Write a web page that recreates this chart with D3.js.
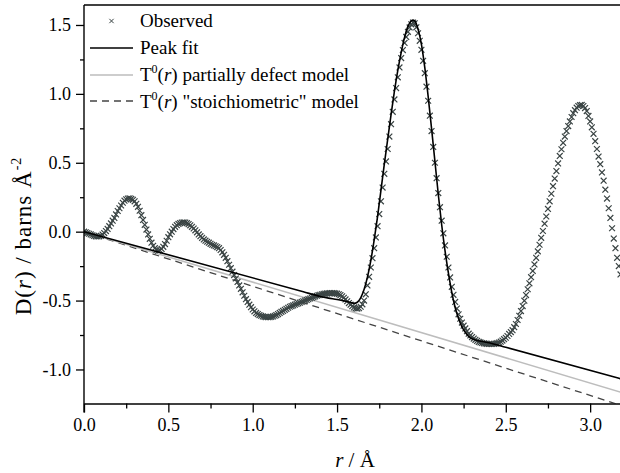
<!DOCTYPE html>
<html>
<head>
  <meta charset="UTF-8">
  <title>D(r)</title>
  <script src="https://d3js.org/d3.v7.min.js"></script>
  <style>
    * { margin: 0; padding: 0; box-sizing: border-box; }
    body { background: #fff; }
    text { font-family: "Liberation Serif", "Times New Roman", serif; fill: #000; }
  </style>
</head>
<body>
  <div id="chart"></div>
  <script>
    // observed D(r), sampled every 0.01 Å starting at r = 0
    const obsStart = 0, obsStep = 0.01;
    const observed = [
      0.000,-0.005,-0.010,-0.015,-0.020,-0.026,-0.030,-0.034,-0.035,-0.034,
      -0.030,-0.021,-0.010,0.004,0.020,0.040,0.060,0.080,0.100,0.125,
      0.150,0.170,0.190,0.210,0.225,0.235,0.240,0.242,0.238,0.231,
      0.220,0.202,0.180,0.152,0.120,0.085,0.050,0.015,-0.020,-0.052,
      -0.080,-0.102,-0.120,-0.133,-0.138,-0.135,-0.125,-0.110,-0.090,-0.066,
      -0.040,-0.019,0.000,0.019,0.035,0.047,0.056,0.062,0.066,0.067,
      0.066,0.062,0.055,0.046,0.035,0.023,0.010,-0.005,-0.020,-0.033,
      -0.045,-0.056,-0.065,-0.073,-0.080,-0.088,-0.095,-0.100,-0.106,-0.112,
      -0.120,-0.133,-0.150,-0.168,-0.190,-0.214,-0.240,-0.265,-0.290,-0.315,
      -0.340,-0.365,-0.390,-0.415,-0.440,-0.465,-0.490,-0.510,-0.530,-0.548,
      -0.565,-0.578,-0.590,-0.598,-0.605,-0.610,-0.615,-0.618,-0.620,-0.621,
      -0.620,-0.618,-0.615,-0.610,-0.605,-0.598,-0.590,-0.582,-0.575,-0.567,
      -0.560,-0.552,-0.545,-0.540,-0.535,-0.530,-0.525,-0.520,-0.515,-0.510,
      -0.505,-0.500,-0.495,-0.490,-0.485,-0.480,-0.475,-0.470,-0.465,-0.461,
      -0.458,-0.455,-0.452,-0.450,-0.448,-0.447,-0.446,-0.446,-0.446,-0.448,
      -0.450,-0.454,-0.460,-0.469,-0.480,-0.492,-0.505,-0.518,-0.530,-0.541,
      -0.550,-0.556,-0.558,-0.555,-0.545,-0.527,-0.500,-0.455,-0.390,-0.328,
      -0.260,-0.192,-0.120,-0.042,0.040,0.128,0.220,0.320,0.420,0.510,
      0.600,0.690,0.780,0.870,0.960,1.042,1.120,1.192,1.260,1.318,
      1.370,1.413,1.450,1.482,1.505,1.518,1.512,1.483,1.440,1.385,
      1.320,1.240,1.150,1.052,0.950,0.842,0.730,0.615,0.500,0.388,
      0.280,0.178,0.080,-0.012,-0.100,-0.182,-0.260,-0.332,-0.400,-0.458,
      -0.510,-0.558,-0.600,-0.632,-0.660,-0.682,-0.702,-0.722,-0.740,-0.753,
      -0.765,-0.776,-0.785,-0.793,-0.800,-0.804,-0.808,-0.810,-0.812,-0.814,
      -0.815,-0.815,-0.815,-0.814,-0.812,-0.809,-0.805,-0.798,-0.790,-0.780,
      -0.770,-0.757,-0.742,-0.729,-0.715,-0.693,-0.670,-0.641,-0.610,-0.576,
      -0.540,-0.501,-0.460,-0.418,-0.375,-0.330,-0.285,-0.238,-0.190,-0.143,
      -0.095,-0.045,0.005,0.058,0.110,0.165,0.220,0.275,0.330,0.385,
      0.440,0.495,0.550,0.598,0.645,0.690,0.730,0.766,0.800,0.832,
      0.860,0.882,0.900,0.912,0.918,0.920,0.912,0.897,0.875,0.840,
      0.800,0.757,0.710,0.657,0.600,0.545,0.490,0.430,0.370,0.305,
      0.240,0.170,0.100,0.025,-0.050,-0.120,-0.190,-0.250,-0.310
    ];

    // peak fit
    const fitR = [0, 1.30, 1.40, 1.45, 1.50, 1.55, 1.58, 1.60, 1.62, 1.64, 1.66, 1.68, 1.70, 1.72, 1.74, 1.76, 1.78,
                  1.80, 1.82, 1.84, 1.86, 1.88, 1.90, 1.92, 1.94, 1.95, 1.96, 1.98, 2.00, 2.02, 2.04, 2.06, 2.08,
                  2.10, 2.12, 2.14, 2.16, 2.18, 2.20, 2.22, 2.24, 2.26, 2.28, 2.30, 2.32, 2.35, 2.40, 2.50, 3.18];
    const fitV = [0, -0.436, -0.470, -0.482, -0.492, -0.505, -0.514, -0.520, -0.512, -0.480, -0.420, -0.330, -0.210,
                  -0.060, 0.110, 0.300, 0.490, 0.670, 0.850, 1.020, 1.170, 1.300, 1.410, 1.490, 1.530, 1.535, 1.530,
                  1.470, 1.360, 1.190, 0.980, 0.750, 0.510, 0.270, 0.050, -0.140, -0.300, -0.440, -0.550, -0.630,
                  -0.690, -0.730, -0.760, -0.777, -0.786, -0.795, -0.806, -0.839, -1.067];

    // T0(r) lines
    const defectR = [0, 3.18], defectV = [0, -1.165];
    const stoichR = [0, 3.18], stoichV = [0, -1.26];

    const xTicks = [0, 0.5, 1.0, 1.5, 2.0, 2.5, 3.0];
    const xMinor = [0.25, 0.75, 1.25, 1.75, 2.25, 2.75];
    const yTicks = [-1.0, -0.5, 0.0, 0.5, 1.0, 1.5];
    const yMinor = [-0.75, -0.25, 0.25, 0.75, 1.25];

    const W = 620, H = 473;
    const margin = {top: 5, right: 0, bottom: 69.5, left: 84};

    const svg = d3.select("#chart").append("svg")
      .attr("width", W).attr("height", H);

    const x = d3.scaleLinear().domain([0, 3.177]).range([margin.left, W - margin.right]);
    const y = d3.scaleLinear().domain([-1.247, 1.645]).range([H - margin.bottom, margin.top]);

    svg.append("clipPath").attr("id", "plot")
      .append("rect")
      .attr("x", margin.left).attr("y", margin.top)
      .attr("width", W - margin.left - margin.right)
      .attr("height", H - margin.top - margin.bottom);

    const plot = svg.append("g").attr("clip-path", "url(#plot)");

    const line = d3.line().x(d => x(d[0])).y(d => y(d[1]));
    const smooth = d3.line().x(d => x(d[0])).y(d => y(d[1])).curve(d3.curveMonotoneX);

    plot.append("path")
      .attr("d", line(d3.zip(stoichR, stoichV)))
      .attr("fill", "none").attr("stroke", "#444").attr("stroke-width", 1.3)
      .attr("stroke-dasharray", "7,5");

    plot.append("path")
      .attr("d", line(d3.zip(defectR, defectV)))
      .attr("fill", "none").attr("stroke", "#bdbdbd").attr("stroke-width", 1.5);

    const cross = d3.symbol(d3.symbolTimes, 24);
    const obsColor = "#3a4444";

    plot.selectAll(".obs")
      .data(observed)
      .enter().append("path")
      .attr("class", "obs")
      .attr("d", cross)
      .attr("transform", (d, i) => `translate(${x(obsStart + i * obsStep)},${y(d)})`)
      .attr("fill", "none").attr("stroke", obsColor).attr("stroke-width", 1.2);

    plot.append("path")
      .attr("d", smooth(d3.zip(fitR, fitV)))
      .attr("fill", "none").attr("stroke", "#000").attr("stroke-width", 1.6);

    // frame
    svg.append("line")
      .attr("x1", margin.left).attr("x2", W).attr("y1", margin.top).attr("y2", margin.top)
      .attr("stroke", "#000").attr("stroke-width", 1.4);

    const fmt = d => d.toFixed(1);

    const xAxis = svg.append("g")
      .attr("transform", `translate(0,${H - margin.bottom})`)
      .call(d3.axisBottom(x).tickValues(xTicks).tickSize(9).tickSizeOuter(0).tickFormat(fmt));
    const xMin = svg.append("g")
      .attr("transform", `translate(0,${H - margin.bottom})`)
      .call(d3.axisBottom(x).tickValues(xMinor).tickSize(5).tickSizeOuter(0).tickFormat(""));
    xMin.select(".domain").remove();

    const yAxis = svg.append("g")
      .attr("transform", `translate(${margin.left},0)`)
      .call(d3.axisLeft(y).tickValues(yTicks).tickSize(8).tickSizeOuter(0).tickFormat(fmt));
    const yMin = svg.append("g")
      .attr("transform", `translate(${margin.left},0)`)
      .call(d3.axisLeft(y).tickValues(yMinor).tickSize(4).tickSizeOuter(0).tickFormat(""));
    yMin.select(".domain").remove();

    // y axis line runs a little past the bottom axis
    yAxis.select(".domain").remove();
    svg.append("line")
      .attr("x1", margin.left).attr("x2", margin.left)
      .attr("y1", margin.top).attr("y2", H - margin.bottom + 9)
      .attr("stroke", "#000").attr("stroke-width", 1.4);

    svg.selectAll(".domain").attr("stroke-width", 1.4);
    svg.selectAll(".tick line").attr("stroke-width", 1.3);
    xAxis.selectAll("text").attr("font-size", 18).attr("y", 15)
      .style("font-family", "'Liberation Serif', serif");
    yAxis.selectAll("text").attr("font-size", 18).attr("x", -13)
      .style("font-family", "'Liberation Serif', serif");

    // axis titles
    const xt = svg.append("text")
      .attr("x", 355).attr("y", 467)
      .attr("text-anchor", "middle").attr("font-size", 21);
    xt.append("tspan").attr("font-style", "italic").text("r");
    xt.append("tspan").text(" / Å");

    const yt = svg.append("text")
      .attr("transform", "translate(31,236) rotate(-90)")
      .attr("text-anchor", "middle").attr("font-size", 23)
      .attr("letter-spacing", 1);
    yt.append("tspan").text("D(");
    yt.append("tspan").attr("font-style", "italic").text("r");
    yt.append("tspan").text(") / barns Å");
    yt.append("tspan").attr("font-size", 14).attr("dy", -10).text("-2");

    // legend
    const legend = svg.append("g");
    const rows = [27, 54, 81, 108];
    const lx0 = 90, lx1 = 133, tx = 140;

    legend.append("path")
      .attr("d", d3.symbol(d3.symbolTimes, 14)())
      .attr("transform", `translate(${(lx0 + lx1) / 2},${rows[0] - 6})`)
      .attr("fill", "none").attr("stroke", obsColor).attr("stroke-width", 1);
    legend.append("line").attr("x1", lx0).attr("x2", lx1).attr("y1", rows[1] - 6).attr("y2", rows[1] - 6)
      .attr("stroke", "#000").attr("stroke-width", 1.6);
    legend.append("line").attr("x1", lx0).attr("x2", lx1).attr("y1", rows[2] - 6).attr("y2", rows[2] - 6)
      .attr("stroke", "#bdbdbd").attr("stroke-width", 1.5);
    legend.append("line").attr("x1", lx0).attr("x2", lx1).attr("y1", rows[3] - 7).attr("y2", rows[3] - 7)
      .attr("stroke", "#444").attr("stroke-width", 1.3).attr("stroke-dasharray", "7,5");

    const lt = (row) => legend.append("text").attr("x", tx).attr("y", rows[row]).attr("font-size", 19);
    lt(0).text("Observed");
    lt(1).text("Peak fit");
    const t0 = (row, rest) => {
      const t = lt(row);
      t.append("tspan").text("T");
      t.append("tspan").attr("font-size", 12).attr("dy", -8).text("0");
      t.append("tspan").attr("dy", 8).text("(");
      t.append("tspan").attr("font-style", "italic").text("r");
      t.append("tspan").text(rest);
    };
    t0(2, ") partially defect model");
    t0(3, ") \"stoichiometric\" model");
  </script>
</body>
</html>
